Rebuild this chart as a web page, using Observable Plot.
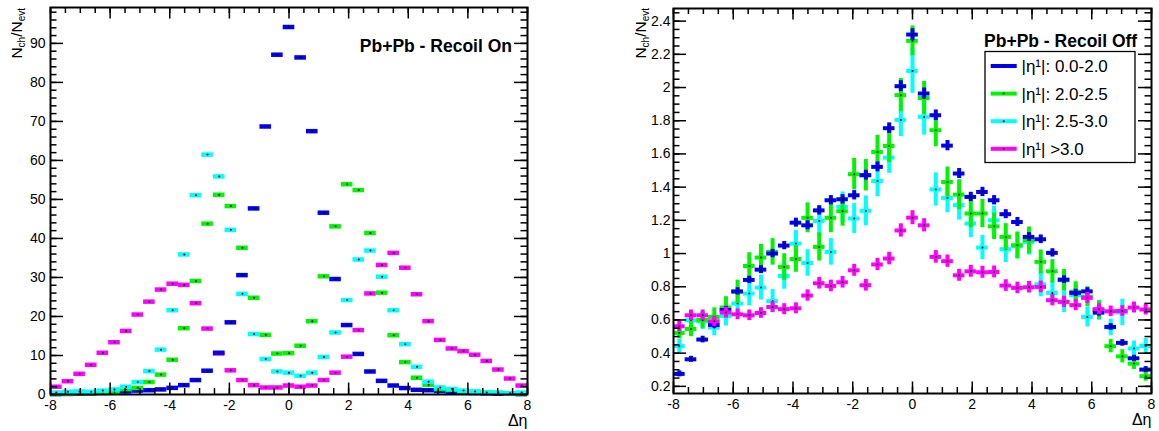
<!DOCTYPE html>
<html>
<head>
<meta charset="utf-8">
<script src="https://cdn.jsdelivr.net/npm/d3@7"></script>
<script src="https://cdn.jsdelivr.net/npm/@observablehq/plot@0.6"></script>
<style>
html, body { margin:0; padding:0; background:#fff; }
#wrap { position:relative; width:1159px; height:431px; overflow:hidden; background:#fff; }
#left, #right { position:absolute; top:0; }
#left { left:0; }
#right { left:580px; }
</style>
</head>
<body>
<div id="wrap"><div id="left"></div><div id="right"></div></div>
<script>
// ---- bin centres (41 bins over -8..8) ----
const deta = [-7.805,-7.415,-7.024,-6.634,-6.244,-5.854,-5.463,-5.073,-4.683,-4.293,-3.902,-3.512,-3.122,-2.732,-2.341,-1.951,-1.561,-1.171,-0.780,-0.390,0,0.390,0.780,1.171,1.561,1.951,2.341,2.732,3.122,3.512,3.902,4.293,4.683,5.073,5.463,5.854,6.244,6.634,7.024,7.415,7.805];
const halfBin = 0.195;

const seriesNames = ["|η¹|: 0.0-2.0", "|η¹|: 2.0-2.5", "|η¹|: 2.5-3.0", "|η¹| >3.0"];
const seriesColors = ["#0000f4", "#00f400", "#00ffff", "#ff00ff"];

// ---- Pb+Pb - Recoil On ----
const blueOn    = [0.1,0.15,0.2,0.3,0.4,0.6,0.8,1.0,1.1,1.3,1.7,2.4,3.7,6.1,10.7,18.5,30.6,47.7,68.7,87.1,94.2,86.4,67.5,46.6,29.6,17.8,10.4,5.9,3.5,2.3,1.65,1.2,1.1,0.9,0.7,0.5,0.4,0.3,0.2,0.2,0.1];
const greenOn   = [0.2,0.2,0.3,0.3,0.5,0.7,1.4,1.7,3.2,5.1,8.9,17.0,29.1,43.8,51.2,48.3,37.6,24.8,15.3,10.5,10.6,12.5,18.8,30.3,43.1,53.9,52.4,41.4,26.1,15.2,8.3,4.3,2.5,1.4,1.2,0.8,0.7,0.5,0.4,0.3,0.2];
const cyanOn    = [0.5,0.7,0.8,0.7,1.0,1.3,2.0,3.2,6.0,11.5,21.6,35.9,51.1,61.5,55.9,42.2,25.8,15.5,9.1,5.9,5.6,4.8,5.6,9.6,15.9,24.2,34.6,36.9,30.2,21.6,12.9,7.1,3.3,1.8,1.4,1.0,0.8,0.5,0.5,0.3,0.5];
const magentaOn = [2.0,3.4,5.3,7.6,10.7,13.4,16.3,20.5,23.8,26.9,28.4,28.1,23.4,16.9,10.5,6.2,3.7,2.4,1.8,1.8,2.3,2.0,2.3,3.7,5.6,9.7,16.5,25.9,33.2,36.3,32.5,25.7,18.8,14.0,11.8,11.1,10.2,8.6,6.4,4.1,2.3];

// ---- Pb+Pb - Recoil Off ----
const blueOff    = [0.275,0.363,0.482,0.57,0.66,0.772,0.841,0.903,1.0,1.048,1.186,1.17,1.26,1.321,1.327,1.351,1.472,1.522,1.755,2.008,2.319,1.964,1.833,1.65,1.482,1.341,1.371,1.321,1.237,1.19,1.10,1.086,1.004,0.843,0.763,0.772,0.644,0.558,0.462,0.369,0.301];
const greenOff   = [0.522,0.546,0.60,0.618,0.675,0.77,0.925,0.976,1.01,0.919,0.967,1.215,1.04,1.215,1.255,1.478,1.472,1.612,1.648,1.954,2.281,1.937,1.743,1.431,1.355,1.241,1.241,1.164,1.10,1.05,1.08,0.95,0.893,0.839,0.77,0.74,0.66,0.442,0.381,0.337,0.261];
const cyanOff    = [0.442,0.598,0.592,0.554,0.624,0.699,0.759,0.795,0.713,0.865,1.06,0.943,1.196,1.01,1.281,1.211,1.257,1.437,1.578,1.805,2.1,1.823,1.386,1.335,1.291,1.181,1.036,1.2,1.026,1.046,1.07,0.815,0.763,0.71,0.749,0.618,0.658,0.555,0.645,0.428,0.443];
const magentaOff = [0.562,0.628,0.628,0.592,0.645,0.634,0.628,0.642,0.678,0.665,0.670,0.747,0.821,0.805,0.827,0.899,0.809,0.934,0.970,1.139,1.216,1.170,0.980,0.954,0.869,0.893,0.887,0.889,0.807,0.793,0.797,0.799,0.719,0.709,0.689,0.733,0.665,0.652,0.654,0.675,0.663];

const blueOffErr    = [0.018,0.018,0.02,0.02,0.022,0.022,0.022,0.024,0.025,0.025,0.027,0.027,0.028,0.028,0.028,0.028,0.03,0.03,0.032,0.033,0.035,0.033,0.032,0.031,0.03,0.028,0.028,0.028,0.027,0.027,0.026,0.026,0.025,0.023,0.022,0.022,0.021,0.02,0.02,0.018,0.018];
const greenOffErr   = [0.035,0.047,0.05,0.055,0.065,0.07,0.08,0.08,0.08,0.08,0.08,0.09,0.085,0.09,0.09,0.095,0.095,0.1,0.1,0.1,0.09,0.1,0.1,0.09,0.09,0.085,0.085,0.08,0.08,0.08,0.08,0.072,0.07,0.065,0.06,0.06,0.055,0.04,0.04,0.035,0.03];
const cyanOffErr    = [0.042,0.045,0.05,0.05,0.06,0.065,0.075,0.075,0.07,0.08,0.08,0.08,0.09,0.08,0.09,0.09,0.09,0.095,0.095,0.1,0.135,0.11,0.1,0.09,0.09,0.085,0.073,0.085,0.08,0.08,0.08,0.075,0.07,0.065,0.065,0.06,0.06,0.05,0.08,0.045,0.045];
const magentaOffErr = [0.032,0.032,0.032,0.032,0.032,0.032,0.032,0.032,0.033,0.033,0.033,0.034,0.035,0.035,0.035,0.036,0.035,0.037,0.038,0.04,0.042,0.04,0.038,0.037,0.036,0.036,0.036,0.036,0.035,0.035,0.035,0.035,0.034,0.034,0.033,0.034,0.033,0.032,0.032,0.033,0.033];

// ---- ticks ----
const xMajor = [-8,-6,-4,-2,0,2,4,6,8];
const xMajorLabels = ["-8","-6","-4","-2","0","2","4","6","8"];
const xMinor = d3.range(-8, 8.001, 0.5);
const yOnMajor = [0,10,20,30,40,50,60,70,80,90];
const yOnMajorLabels = ["0","10","20","30","40","50","60","70","80","90"];
const yOnMinor = d3.range(0, 99, 2);
const yOffMajor = [0.2,0.4,0.6,0.8,1.0,1.2,1.4,1.6,1.8,2.0,2.2,2.4];
const yOffMajorLabels = ["0.2","0.4","0.6","0.8","1","1.2","1.4","1.6","1.8","2","2.2","2.4"];
const yOffMinor = d3.range(0.2, 2.46, 0.05);

const FONT = '"Liberation Sans", Arial, Helvetica, sans-serif';

function rows(vals, errs) {
  return deta.map((x, i) => ({x, x1: x - halfBin, x2: x + halfBin, v: vals[i], e: errs ? errs[i] : 0}));
}

function frameMarks(c) {
  const W = c.width - c.ml - c.mr, H = c.height - c.mt - c.mb;
  const tk = {stroke: "black", strokeWidth: 1.5};
  return [
    Plot.tickX(xMinor, {x: d => d, insetTop: H - 6, ...tk}),
    Plot.tickX(xMinor, {x: d => d, insetBottom: H - 6, ...tk}),
    Plot.tickX(xMajor, {x: d => d, insetTop: H - 11.5, ...tk}),
    Plot.tickX(xMajor, {x: d => d, insetBottom: H - 11.5, ...tk}),
    Plot.tickY(c.yMinor, {y: d => d, insetRight: W - 6.5, ...tk}),
    Plot.tickY(c.yMinor, {y: d => d, insetLeft: W - 6.5, ...tk}),
    Plot.tickY(c.yMajor, {y: d => d, insetRight: W - 13, ...tk}),
    Plot.tickY(c.yMajor, {y: d => d, insetLeft: W - 13, ...tk}),
    Plot.frame({stroke: "black", strokeWidth: 2}),
    Plot.text(xMajor.map((v, i) => ({v, t: xMajorLabels[i]})), {x: "v", text: "t", frameAnchor: "bottom", dy: 11, lineAnchor: "middle", fontSize: 14, fill: "black"}),
    Plot.text(c.yMajor.map((v, i) => ({v, t: c.yLabels[i]})), {y: "v", text: "t", frameAnchor: "left", dx: c.ydx, textAnchor: "end", lineAnchor: "middle", fontSize: 14, fill: "black"}),
    Plot.text(["Δη"], {text: d => d, frameAnchor: "bottom-right", dy: 31, textAnchor: "end", lineAnchor: "bottom", fontSize: 16, fill: "black"}),
    Plot.text([c.title], {text: d => d, frameAnchor: "top-right", dx: c.tdx, dy: c.tdy, textAnchor: "end", lineAnchor: "bottom", fontSize: 17.5, fontWeight: "bold", fill: "black"})
  ];
}

function yTitle(svg, x, y) {
  const t = d3.select(svg).append("text")
    .attr("transform", `translate(${x},${y}) rotate(-90)`)
    .attr("text-anchor", "end").attr("font-family", FONT).attr("font-size", 15.5).attr("fill", "black");
  t.append("tspan").text("N");
  t.append("tspan").attr("font-size", 10).attr("dy", 3).text("ch");
  t.append("tspan").attr("dy", -3).text("/N");
  t.append("tspan").attr("font-size", 10).attr("dy", 3).text("evt");
}

// ---- left panel: Recoil On ----
const L = {width: 580, height: 431, ml: 50, mr: 53, mt: 7, mb: 37, yMajor: yOnMajor, yMinor: yOnMinor, yLabels: yOnMajorLabels, ydx: -5, title: "Pb+Pb - Recoil On", tdx: -15.5, tdy: 44};
const onSeries = [[magentaOn, 3], [blueOn, 0], [greenOn, 1], [cyanOn, 2]];
const leftMarks = [];
for (const [vals, ci] of onSeries) {
  const r = rows(vals);
  leftMarks.push(Plot.ruleY(r, {y: "v", x1: "x1", x2: "x2", stroke: seriesColors[ci], strokeWidth: 4.5}));
  leftMarks.push(Plot.dot(r, {x: "x", y: "v", r: 1, fill: "black", stroke: "none"}));
}
const leftSvg = Plot.plot({
  width: L.width, height: L.height,
  marginLeft: L.ml, marginRight: L.mr, marginTop: L.mt, marginBottom: L.mb,
  x: {domain: [-8, 8], axis: null},
  y: {domain: [0, 99.2], axis: null},
  style: {fontFamily: FONT, background: "white", color: "black"},
  marks: [...leftMarks, ...frameMarks(L)]
});
yTitle(leftSvg, 21.5, 8);
document.getElementById("left").appendChild(leftSvg);

// ---- right panel: Recoil Off ----
const R = {width: 579, height: 431, ml: 93, mr: 8, mt: 8, mb: 38, yMajor: yOffMajor, yMinor: yOffMinor, yLabels: yOffMajorLabels, ydx: -3, title: "Pb+Pb - Recoil Off", tdx: -14.3, tdy: 38};
const offSeries = [[cyanOff, cyanOffErr, 2], [greenOff, greenOffErr, 1], [blueOff, blueOffErr, 0], [magentaOff, magentaOffErr, 3]];
const rightMarks = [];
for (const [vals, errs, ci] of offSeries) {
  const r = rows(vals, errs);
  rightMarks.push(Plot.ruleX(r, {x: "x", y1: d => d.v - d.e, y2: d => d.v + d.e, stroke: seriesColors[ci], strokeWidth: 4}));
  rightMarks.push(Plot.ruleY(r, {y: "v", x1: "x1", x2: "x2", stroke: seriesColors[ci], strokeWidth: 4}));
  rightMarks.push(Plot.dot(r, {x: "x", y: "v", r: 1, fill: "black", stroke: "none"}));
}
const rightSvg = Plot.plot({
  width: R.width, height: R.height,
  marginLeft: R.ml, marginRight: R.mr, marginTop: R.mt, marginBottom: R.mb,
  x: {domain: [-8, 8], axis: null},
  y: {domain: [0.157, 2.476], axis: null},
  style: {fontFamily: FONT, background: "white", color: "black"},
  marks: [...rightMarks, ...frameMarks(R)]
});
yTitle(rightSvg, 66, 8);

// legend
(function legend(svg) {
  const g = d3.select(svg).append("g").attr("font-family", FONT).attr("text-anchor", "start");
  g.append("rect").attr("x", 405).attr("y", 51.5).attr("width", 150).attr("height", 111)
    .attr("fill", "white").attr("stroke", "black").attr("stroke-width", 1.3);
  seriesNames.forEach((name, i) => {
    const y = 66 + i * 27.6;
    g.append("line").attr("x1", 410.7).attr("x2", 436.7).attr("y1", y).attr("y2", y)
      .attr("stroke", seriesColors[i]).attr("stroke-width", 4);
    g.append("circle").attr("cx", 423.7).attr("cy", y).attr("r", 1).attr("fill", "black");
    g.append("text").attr("x", 441.5).attr("y", y + 6).attr("text-anchor", "start")
      .attr("font-size", 17).attr("fill", "black").text(name);
  });
})(rightSvg);
document.getElementById("right").appendChild(rightSvg);
</script>
</body>
</html>
